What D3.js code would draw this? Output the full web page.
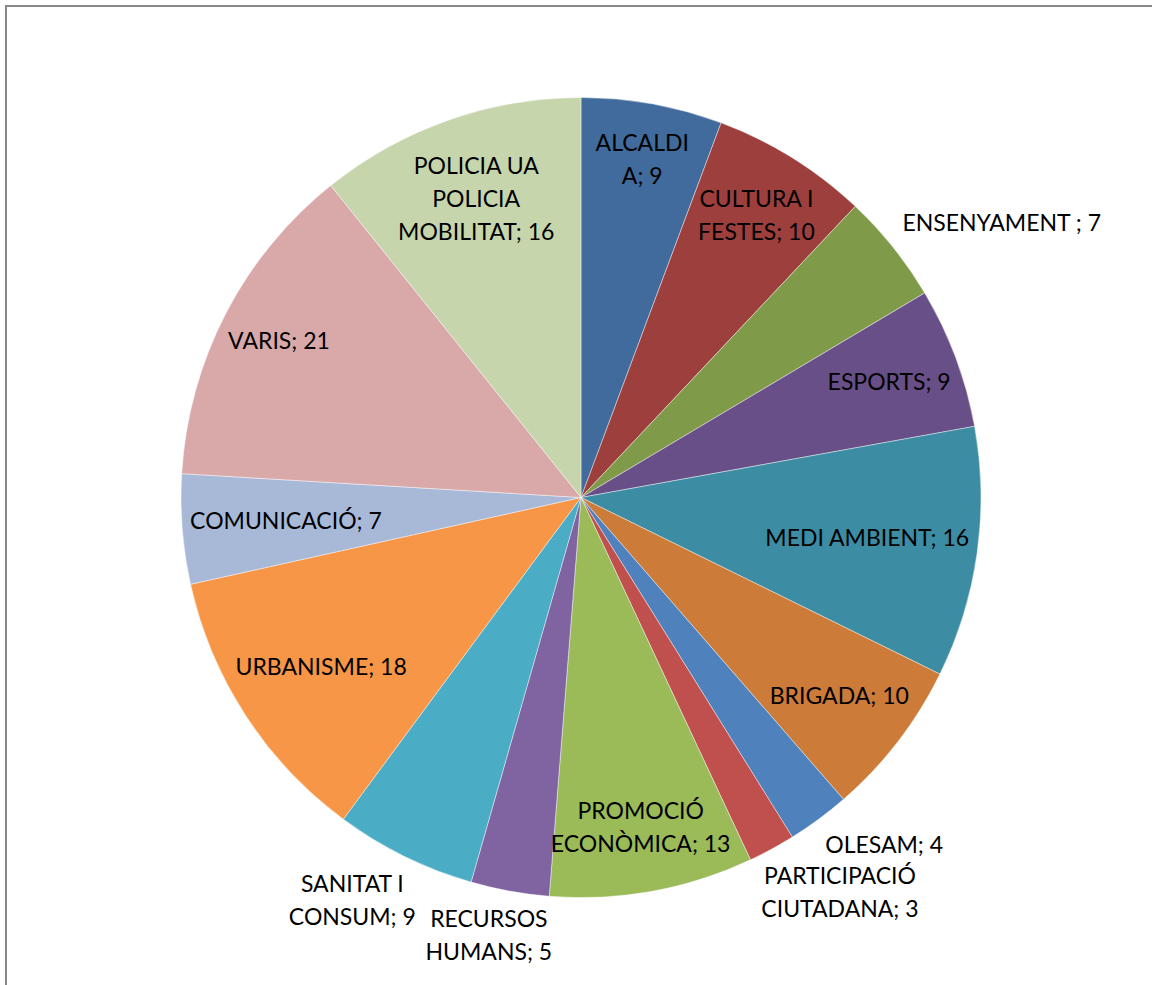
<!DOCTYPE html>
<html>
<head>
<meta charset="utf-8">
<script src="https://cdn.jsdelivr.net/npm/d3@7"></script>
<style>
  body { margin: 0; background: #fff; }
  svg { display: block; }
</style>
</head>
<body>
<div id="chart"></div>
<script>
const categories = ["ALCALDIA", "CULTURA I FESTES", "ENSENYAMENT ", "ESPORTS", "MEDI AMBIENT",
  "BRIGADA", "OLESAM", "PARTICIPACIÓ CIUTADANA", "PROMOCIÓ ECONÒMICA", "RECURSOS HUMANS",
  "SANITAT I CONSUM", "URBANISME", "COMUNICACIÓ", "VARIS", "POLICIA UA POLICIA MOBILITAT"];
const values = [9, 10, 7, 9, 16, 10, 4, 3, 13, 5, 9, 18, 7, 21, 17];
// values as printed in the data labels
const labelValues = [9, 10, 7, 9, 16, 10, 4, 3, 13, 5, 9, 18, 7, 21, 16];
// how the name is wrapped in its label (value appended to last line)
const labelBreaks = [["ALCALDI", "A"], ["CULTURA I", "FESTES"], ["ENSENYAMENT "], ["ESPORTS"], ["MEDI AMBIENT"],
  ["BRIGADA"], ["OLESAM"], ["PARTICIPACIÓ", "CIUTADANA"], ["PROMOCIÓ", "ECONÒMICA"], ["RECURSOS", "HUMANS"],
  ["SANITAT I", "CONSUM"], ["URBANISME"], ["COMUNICACIÓ"], ["VARIS"], ["POLICIA UA", "POLICIA", "MOBILITAT"]];
const outsideLabels = ["ENSENYAMENT ", "OLESAM", "PARTICIPACIÓ CIUTADANA", "RECURSOS HUMANS", "SANITAT I CONSUM"];
const colors = ["#416b9c", "#9c3f3d", "#7f9a48", "#684f87", "#3c8da4", "#cc7b38",
  "#4f81bd", "#c0504d", "#9bbb59", "#8064a2", "#4bacc6", "#f79646",
  "#a8b9d8", "#d9a9a9", "#c6d5ab"];

const width = 1152;
const height = 985;
const cx = 581, cy = 497.5, radius = 400;
const lineH = 33;

const svg = d3.select("#chart").append("svg")
  .attr("width", width)
  .attr("height", height);

svg.append("rect")
  .attr("x", 6).attr("y", 6)
  .attr("width", width + 20).attr("height", height + 20)
  .attr("fill", "none")
  .attr("stroke", "#888")
  .attr("stroke-width", 2);

const g = svg.append("g")
  .attr("transform", "translate(" + cx + "," + cy + ")");

const data = categories.map((c, i) => ({ name: c, value: values[i], label: labelValues[i], lines: labelBreaks[i] }));

const color = d3.scaleOrdinal().domain(categories).range(colors);

const pie = d3.pie().sort(null).value(d => d.value);
const path = d3.arc().outerRadius(radius).innerRadius(0);

const arcs = pie(data);

g.selectAll("path")
  .data(arcs)
  .enter()
  .append("path")
  .attr("d", path)
  .attr("fill", d => color(d.data.name))
  .attr("stroke", "#fff")
  .attr("stroke-width", 0.6)
  .attr("stroke-opacity", 0.7);

const labels = g.selectAll(".lbl")
  .data(arcs)
  .enter()
  .append("g")
  .attr("class", "lbl");

const clamp = v => Math.max(0, Math.min(1, v));

labels.each(function(d) {
  const el = d3.select(this);
  const lines = d.data.lines.slice();
  lines[lines.length - 1] = lines[lines.length - 1] + "; " + d.data.label;
  const txt = el.append("text")
    .attr("font-family", "Lato, 'Open Sans', sans-serif")
    .attr("font-size", "23px")
    .attr("fill", "#000")
    .attr("text-anchor", "middle");
  lines.forEach((l, i) => {
    txt.append("tspan").attr("x", 0).attr("y", i * lineH).attr("dy", "0.35em").text(l);
  });
  let w = 0;
  txt.selectAll("tspan").each(function() { w = Math.max(w, this.getComputedTextLength()); });
  const h = lines.length * lineH;
  const a = (d.startAngle + d.endAngle) / 2;
  const s = Math.sin(a), c = Math.cos(a);
  let left, top;
  if (outsideLabels.includes(d.data.name)) {
    // box corner / edge nearest the pie sits on the bisector just outside the rim
    const r = radius + 12;
    const px = r * s, py = -r * c;
    left = px - w * clamp((1 - s / 0.6) / 2);
    top = py - h * clamp((1 + c / 0.6) / 2);
  } else {
    // start on the bisector, pull inward until the box fits inside the pie
    let r = radius * 0.86;
    const lim = radius - 7;
    while (r > 0) {
      const bx = r * s - w / 2, by = -r * c - h / 2;
      const corners = [[bx, by], [bx + w, by], [bx, by + h], [bx + w, by + h]];
      if (corners.every(p => Math.hypot(p[0], p[1]) <= lim)) break;
      r -= 1;
    }
    left = r * s - w / 2;
    top = -r * c - h / 2;
  }
  el.attr("transform", "translate(" + (left + w / 2) + "," + (top + lineH / 2) + ")");
});
</script>
</body>
</html>
